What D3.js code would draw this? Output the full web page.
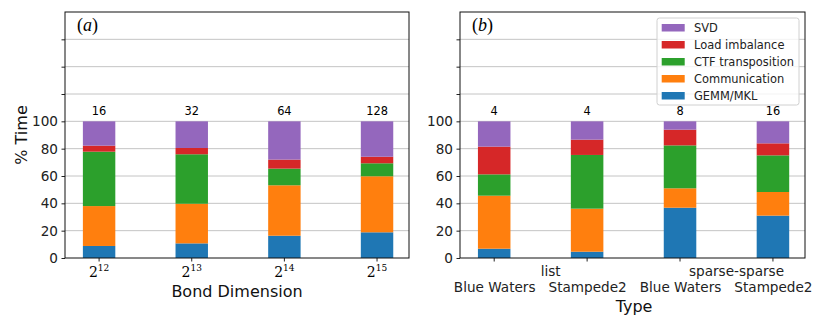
<!DOCTYPE html>
<html><head><meta charset="utf-8">
<script src="https://cdn.jsdelivr.net/npm/d3@7"></script>
<style>body{margin:0;background:#fff}</style>
</head><body>
<svg id="c" width="830" height="332"></svg>
<script>
const series = ["GEMM/MKL","Communication","CTF transposition","Load imbalance","SVD"];
const colors = ["#1f77b4","#ff7f0e","#2ca02c","#d62728","#9467bd"];
// panel (a)
const catsA = ["12","13","14","15"];
const procsA = ["16","32","64","128"];
const gemmA = [8.8,10.7,16.3,18.8];
const commA = [29.2,29.0,36.9,41.0];
const ctfA  = [39.8,36.2,12.2,9.5];
const loadA = [4.4,4.6,6.6,4.8];
const svdA  = [17.8,19.5,28.0,25.9];
// panel (b)
const catsB = ["Blue Waters","Stampede2","Blue Waters","Stampede2"];
const groupsB = ["list","sparse-sparse"];
const procsB = ["4","4","8","16"];
const gemmB = [6.8,4.6,36.8,31.0];
const commB = [38.8,31.5,14.2,17.3];
const ctfB  = [15.6,39.3,31.4,26.8];
const loadB = [20.3,11.2,11.5,8.8];
const svdB  = [18.5,13.4,6.1,16.1];
const yTicks = [0,20,40,60,80,100];
const yGrid = [20,40,60,80,100,120,140,160];

const svg = d3.select("#c");
const font = "DejaVu Sans";

function panel(x0, x1, vals, procs, label) {
  const x = d3.scaleLinear().domain([-0.368, 3.345]).range([x0, x1]);
  const y = d3.scaleLinear().domain([0, 180]).range([258, 12]);
  const g = svg.append("g");
  g.selectAll(".grid").data(yGrid).join("line")
    .attr("x1", x0).attr("x2", x1).attr("y1", d => y(d)).attr("y2", d => y(d))
    .attr("stroke", "#c4c4c4").attr("stroke-width", 1);
  const n = vals[0].length;
  const rows = d3.range(n).map(i => { const o = {i}; series.forEach((s, k) => o[s] = vals[k][i]); return o; });
  const stacked = d3.stack().keys(series)(rows);
  const bw = x(0.35) - x(0);
  stacked.forEach((layer, k) => {
    g.selectAll(null).data(layer).join("rect")
      .attr("x", d => x(d.data.i) - bw / 2).attr("width", bw)
      .attr("y", d => y(d[1])).attr("height", d => y(d[0]) - y(d[1]))
      .attr("fill", colors[k]);
  });
  g.selectAll(null).data(procs).join("text")
    .attr("x", (d, i) => x(i)).attr("y", y(100) - 6)
    .attr("text-anchor", "middle").attr("font-family", font).attr("font-size", 11.4)
    .text(d => d);
  const ya = d3.axisLeft(y).tickValues([0,20,40,60,80,100,120,140,160]).tickSize(3.5).tickPadding(3.5)
    .tickFormat(d => yTicks.includes(d) ? d : "");
  const yg = g.append("g").attr("transform", `translate(${x0},0)`).call(ya);
  yg.select(".domain").remove();
  yg.selectAll("text").attr("font-family", font).attr("font-size", 13.6).attr("fill", "#222");
  yg.selectAll("line").attr("stroke", "#222");
  g.selectAll(null).data(d3.range(n)).join("line")
    .attr("x1", d => x(d)).attr("x2", d => x(d)).attr("y1", 258).attr("y2", 261.5)
    .attr("stroke", "#222");
  g.append("rect").attr("x", x0).attr("y", 12).attr("width", x1 - x0).attr("height", 246)
    .attr("fill", "none").attr("stroke", "#111").attr("stroke-width", 1);
  g.append("text").attr("x", x0 + 12).attr("y", 31)
    .attr("font-family", "Liberation Serif").attr("font-size", 18)
    .html('(<tspan font-style="italic">' + label + '</tspan>)');
  return x;
}

const valsA = [gemmA, commA, ctfA, loadA, svdA];
const valsB = [gemmB, commB, ctfB, loadB, svdB];
const xA = panel(65, 409, valsA, procsA, "a");
const xB = panel(460, 805, valsB, procsB, "b");

svg.selectAll(null).data(catsA).join("text")
  .attr("x", (d, i) => xA(i)).attr("y", 277)
  .attr("text-anchor", "middle").attr("font-family", "DejaVu Serif").attr("font-size", 14)
  .html(d => '2<tspan font-size="9" dy="-6">' + d + '</tspan>');
svg.append("text").attr("x", 237).attr("y", 297).attr("text-anchor", "middle")
  .attr("font-family", font).attr("font-size", 16).attr("fill", "#111").text("Bond Dimension");

svg.selectAll(null).data(catsB).join("text")
  .attr("x", (d, i) => xB(i) + 0.5).attr("y", 292)
  .attr("text-anchor", "middle").attr("font-family", font).attr("font-size", 13.6).attr("fill", "#222")
  .text(d => d);
svg.selectAll(null).data(groupsB).join("text")
  .attr("x", (d, i) => (xB(2 * i) + xB(2 * i + 1)) / 2 + 10).attr("y", 276)
  .attr("text-anchor", "middle").attr("font-family", font).attr("font-size", 13.6).attr("fill", "#222")
  .text(d => d);
svg.append("text").attr("x", 634).attr("y", 312).attr("text-anchor", "middle")
  .attr("font-family", font).attr("font-size", 16).attr("fill", "#111").text("Type");

svg.append("text").attr("transform", "translate(26.5,135) rotate(-90)").attr("text-anchor", "middle")
  .attr("font-family", font).attr("font-size", 16).attr("fill", "#111").text("% Time");

// legend
const lg = svg.append("g");
lg.append("rect").attr("x", 657).attr("y", 18).attr("width", 142).attr("height", 87).attr("rx", 2.5)
  .attr("fill", "#fff").attr("fill-opacity", 0.8).attr("stroke", "#d0d0d0");
const legOrder = d3.range(series.length).reverse();
lg.selectAll(null).data(legOrder).join("rect")
  .attr("x", 661.7).attr("y", (d, j) => 24 + j * 17).attr("width", 23).attr("height", 7.5)
  .attr("fill", d => colors[d]);
const lt = lg.selectAll(null).data(legOrder).join("text")
  .attr("x", 694).attr("y", (d, j) => 31.5 + j * 17)
  .attr("font-family", font).attr("font-size", 10).attr("fill", "#222")
  .text(d => series[d]);
// size legend text so "CTF transposition" spans ~100px as in the reference
const ref = lt.filter(d => series[d] === "CTF transposition").node();
const w = ref.getComputedTextLength();
if (w > 0) lt.attr("font-size", 10 * 100 / w);
</script>
</body></html>
